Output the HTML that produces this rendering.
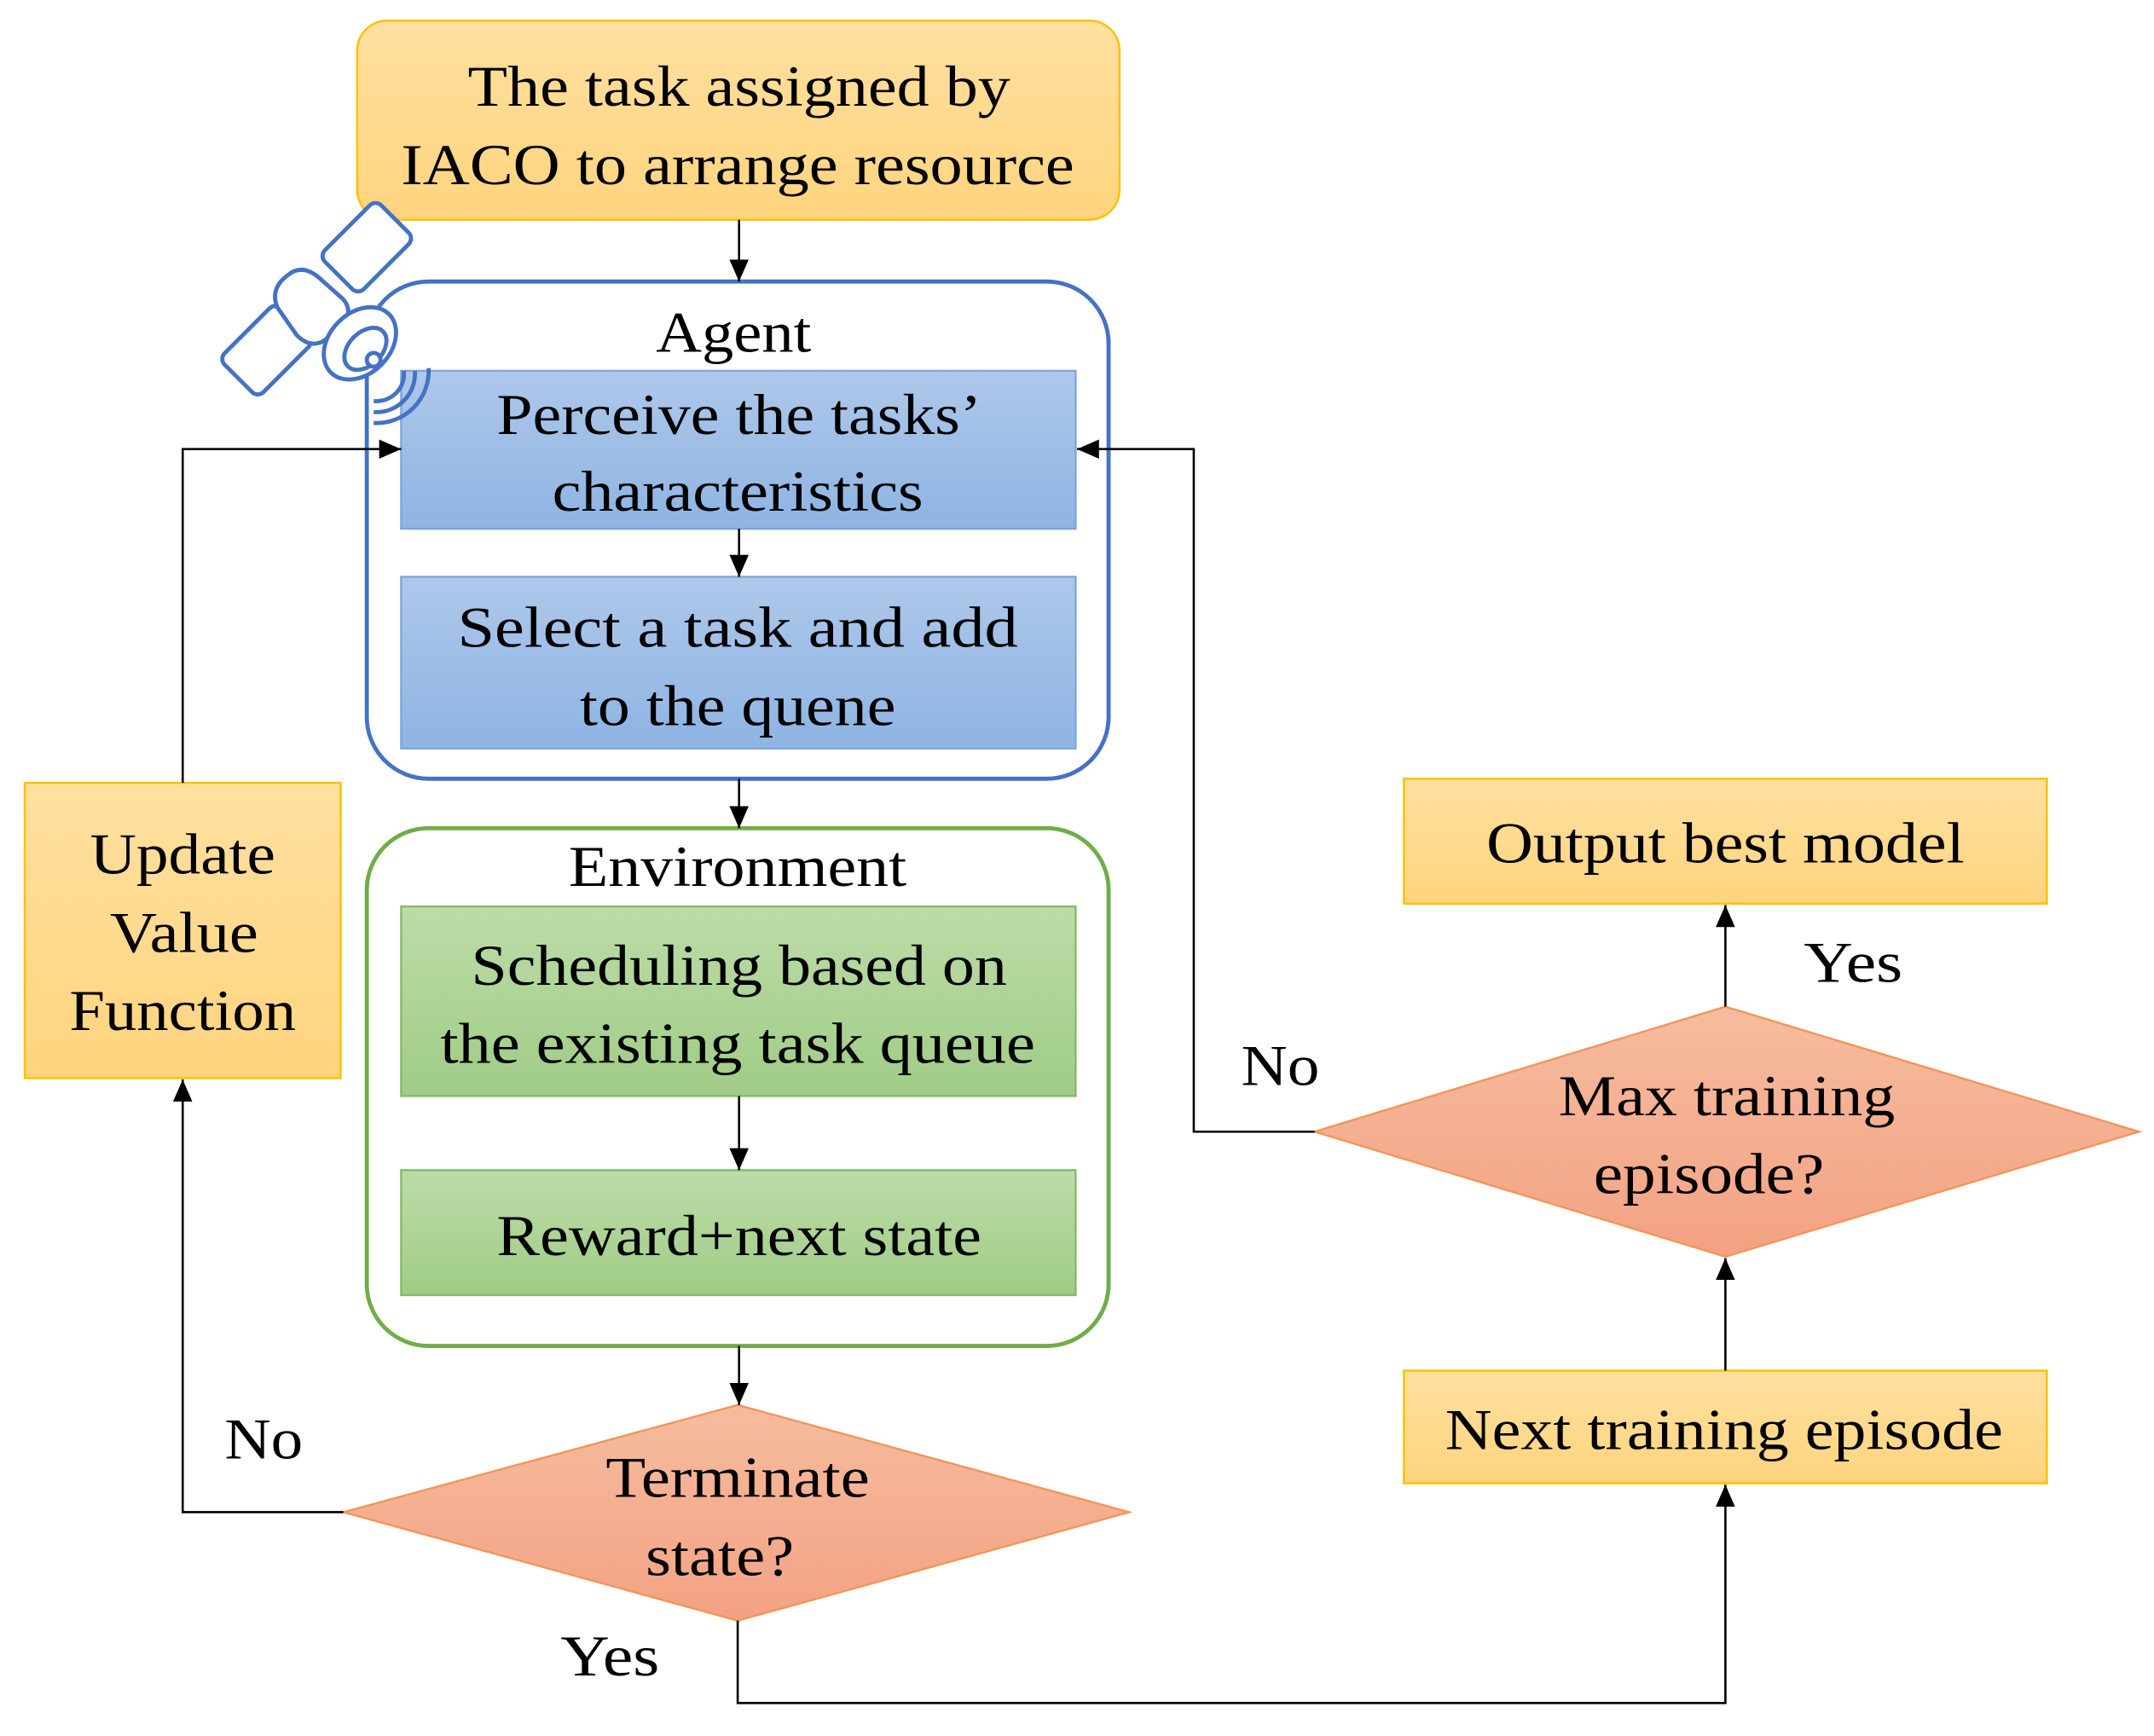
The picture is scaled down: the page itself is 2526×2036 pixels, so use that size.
<!DOCTYPE html>
<html><head><meta charset="utf-8"><style>html,body{margin:0;padding:0;background:#fff}svg{display:block}</style></head>
<body>
<svg width="2526" height="2036" viewBox="0 0 1568 1264" preserveAspectRatio="none" xmlns="http://www.w3.org/2000/svg" font-family="'Liberation Serif', serif" font-size="42" fill="#000">
<defs>
<linearGradient id="gy" x1="0" y1="0" x2="0" y2="1"><stop offset="0" stop-color="#FFE0A0"/><stop offset="1" stop-color="#FFD47E"/></linearGradient>
<linearGradient id="gb" x1="0" y1="0" x2="0" y2="1"><stop offset="0" stop-color="#AEC8EA"/><stop offset="1" stop-color="#8EB4E3"/></linearGradient>
<linearGradient id="gg" x1="0" y1="0" x2="0" y2="1"><stop offset="0" stop-color="#BCDCA8"/><stop offset="1" stop-color="#A0CC86"/></linearGradient>
<linearGradient id="go" x1="0" y1="0" x2="0" y2="1"><stop offset="0" stop-color="#F6BC9E"/><stop offset="1" stop-color="#F3A283"/></linearGradient>
<marker id="ar" viewBox="0 0 16 14" refX="16" refY="7" markerWidth="16" markerHeight="14" markerUnits="userSpaceOnUse" orient="auto"><path d="M0,0 L16,7 L0,14 z" fill="#000"/></marker>
</defs>
<rect x="260" y="15" width="555" height="145" rx="22" fill="url(#gy)" stroke="#FFC000" stroke-width="1.5"/>
<rect x="267" y="205" width="540" height="362" rx="45" fill="#fff" stroke="#4472C4" stroke-width="3"/>
<rect x="292" y="270" width="491" height="115" fill="url(#gb)" stroke="#7FA7DA" stroke-width="1.5"/>
<rect x="292" y="420" width="491" height="125" fill="url(#gb)" stroke="#7FA7DA" stroke-width="1.5"/>
<rect x="267" y="603" width="540" height="377" rx="45" fill="#fff" stroke="#70AD47" stroke-width="3"/>
<rect x="292" y="660" width="491" height="138" fill="url(#gg)" stroke="#86BC66" stroke-width="1.5"/>
<rect x="292" y="852" width="491" height="91" fill="url(#gg)" stroke="#86BC66" stroke-width="1.5"/>
<polygon points="537,1023 822,1101 537,1180 250,1101" fill="url(#go)" stroke="#F4955A" stroke-width="1.5"/>
<rect x="18" y="570" width="230" height="215" fill="url(#gy)" stroke="#FFC000" stroke-width="1.5"/>
<rect x="1022" y="567" width="468" height="91" fill="url(#gy)" stroke="#FFC000" stroke-width="1.5"/>
<rect x="1022" y="998" width="468" height="82" fill="url(#gy)" stroke="#FFC000" stroke-width="1.5"/>
<polygon points="1256,733 1557,824 1256,915 957,824" fill="url(#go)" stroke="#F4955A" stroke-width="1.5"/>
<g stroke="#000" stroke-width="1.6" fill="none" marker-end="url(#ar)">
<line x1="538" y1="160" x2="538" y2="205"/>
<line x1="538" y1="385" x2="538" y2="420"/>
<line x1="538" y1="567" x2="538" y2="603"/>
<line x1="538" y1="798" x2="538" y2="852"/>
<line x1="538" y1="980" x2="538" y2="1023"/>
<polyline points="250,1101 133,1101 133,786"/>
<polyline points="133,570 133,327 292,327"/>
<polyline points="537,1180 537,1240 1256,1240 1256,1081"/>
<line x1="1256" y1="998" x2="1256" y2="916"/>
<line x1="1256" y1="733" x2="1256" y2="659"/>
<polyline points="957,824 869,824 869,327 784,327"/>
</g>
<!-- satellite -->
<g fill="#fff" stroke="#4472C4" stroke-width="3">
<rect x="238" y="160" width="58" height="40" rx="6" transform="rotate(-45 267 180)"/>
<rect x="165" y="235" width="58" height="40" rx="6" transform="rotate(-45 194 255)"/>
<path d="M210,200 q10,-8 22,2 l18,16 q8,10 -2,20 l-12,10 q-10,6 -20,-4 l-14,-20 q-6,-14 8,-24z"/>
<ellipse cx="262" cy="250" rx="30" ry="22" transform="rotate(-45 262 250)"/>
<ellipse cx="266" cy="254" rx="18" ry="12" transform="rotate(-45 266 254)"/>
<circle cx="272" cy="262" r="5"/>
<path d="M272,292 a20,20 0 0 0 22,-22" fill="none"/>
<path d="M272,300 a28,28 0 0 0 30,-30" fill="none"/>
<path d="M272,308 a38,38 0 0 0 40,-40" fill="none"/>
</g>
<g text-anchor="middle">
<text x="538" y="77" textLength="395" lengthAdjust="spacingAndGlyphs">The task assigned by</text>
<text x="537" y="134" textLength="490" lengthAdjust="spacingAndGlyphs">IACO to arrange resource</text>
<text x="534" y="256" textLength="113" lengthAdjust="spacingAndGlyphs">Agent</text>
<text x="538" y="316" textLength="353" lengthAdjust="spacingAndGlyphs">Perceive the tasks’</text>
<text x="537" y="372" textLength="270" lengthAdjust="spacingAndGlyphs">characteristics</text>
<text x="537" y="471" textLength="408" lengthAdjust="spacingAndGlyphs">Select a task  and add</text>
<text x="537" y="528" textLength="230" lengthAdjust="spacingAndGlyphs">to the quene</text>
<text x="537" y="645" textLength="246" lengthAdjust="spacingAndGlyphs">Environment</text>
<text x="538" y="717" textLength="390" lengthAdjust="spacingAndGlyphs">Scheduling based on</text>
<text x="537" y="774" textLength="433" lengthAdjust="spacingAndGlyphs">the existing task queue</text>
<text x="538" y="914" textLength="353" lengthAdjust="spacingAndGlyphs">Reward+next state</text>
<text x="537" y="1090" textLength="192" lengthAdjust="spacingAndGlyphs">Terminate</text>
<text x="524" y="1147" textLength="108" lengthAdjust="spacingAndGlyphs">state?</text>
<text x="192" y="1062" textLength="57" lengthAdjust="spacingAndGlyphs">No</text>
<text x="133" y="636" textLength="135" lengthAdjust="spacingAndGlyphs">Update</text>
<text x="134" y="693" textLength="108" lengthAdjust="spacingAndGlyphs">Value</text>
<text x="133" y="750" textLength="165" lengthAdjust="spacingAndGlyphs">Function</text>
<text x="444" y="1220" textLength="72" lengthAdjust="spacingAndGlyphs">Yes</text>
<text x="1256" y="628" textLength="348" lengthAdjust="spacingAndGlyphs">Output best model</text>
<text x="1349" y="715" textLength="72" lengthAdjust="spacingAndGlyphs">Yes</text>
<text x="1257" y="812" textLength="245" lengthAdjust="spacingAndGlyphs">Max training</text>
<text x="1244" y="869" textLength="168" lengthAdjust="spacingAndGlyphs">episode?</text>
<text x="932" y="790" textLength="57" lengthAdjust="spacingAndGlyphs">No</text>
<text x="1255" y="1055" textLength="406" lengthAdjust="spacingAndGlyphs">Next training episode</text>
</g>
</svg>
</body></html>
